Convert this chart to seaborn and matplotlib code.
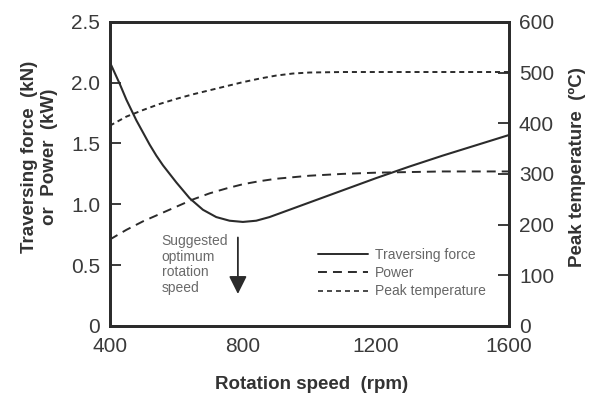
import matplotlib
matplotlib.use("Agg")
import matplotlib.pyplot as plt
import seaborn as sns
import pandas as pd
from matplotlib.lines import Line2D

sns.set_theme(style="white")
plt.rcParams['font.family'] = ['Liberation Sans', 'DejaVu Sans']

force_rpm = [400, 415, 430, 450, 480, 500, 520, 540, 560, 600, 640, 680, 720, 760, 800, 840, 880, 920,
             960, 1000, 1100, 1200, 1300, 1400, 1500, 1600]
force_kn = [2.17, 2.08, 1.99, 1.86, 1.69, 1.59, 1.49, 1.40, 1.32, 1.18, 1.05, 0.955, 0.895, 0.865,
            0.855, 0.865, 0.895, 0.935, 0.975, 1.015, 1.115, 1.215, 1.31, 1.40, 1.485, 1.57]

power_rpm = [400, 450, 500, 550, 600, 650, 700, 750, 800, 850, 900, 1000, 1100, 1200, 1300, 1400, 1600]
power_kw = [0.71, 0.79, 0.86, 0.92, 0.98, 1.04, 1.09, 1.13, 1.165, 1.19, 1.21, 1.235, 1.25, 1.26,
            1.265, 1.27, 1.27]

temp_rpm = [400, 450, 500, 550, 600, 650, 700, 750, 800, 850, 900, 950, 1000, 1100, 1600]
temp_c = [395, 413, 426, 438, 448, 457, 465, 473, 481, 488, 494, 498, 500, 501, 501]

x_ticks = [400, 800, 1200, 1600]
left_ticks = [0, 0.5, 1.0, 1.5, 2.0, 2.5]
left_labels = ["0", "0.5", "1.0", "1.5", "2.0", "2.5"]
right_ticks = [0, 100, 200, 300, 400, 500, 600]

series_labels = ["Traversing force", "Power", "Peak temperature"]
annot_text = "Suggested\noptimum\nrotation\nspeed"
arrow_rpm = 785

col = "#2b2b2b"
fig = plt.figure(figsize=(5.9, 3.97), dpi=100)
ax = fig.add_axes([0.186, 0.179, 0.677, 0.766])
ax2 = ax.twinx()

df_f = pd.DataFrame({"rpm": force_rpm, "v": force_kn})
df_p = pd.DataFrame({"rpm": power_rpm, "v": power_kw})
df_t = pd.DataFrame({"rpm": temp_rpm, "v": temp_c})

sns.lineplot(data=df_f, x="rpm", y="v", ax=ax, color=col, lw=1.5)
sns.lineplot(data=df_p, x="rpm", y="v", ax=ax, color=col, lw=1.4)
ax.lines[-1].set_dashes([4.6, 3.1])
sns.lineplot(data=df_t, x="rpm", y="v", ax=ax2, color=col, lw=1.4)
ax2.lines[-1].set_dashes([2.6, 2.0])

ax.set_xlim(400, 1600)
ax.set_ylim(0, 2.5)
ax2.set_ylim(0, 600)
ax.set_xticks(x_ticks)
ax.set_xticklabels([str(t) for t in x_ticks])
ax.set_yticks(left_ticks)
ax.set_yticklabels(left_labels)
ax2.set_yticks(right_ticks)

for a in (ax, ax2):
    for s in a.spines.values():
        s.set_linewidth(2.0)
        s.set_color(col)
    a.tick_params(direction="in", length=8, width=1.3, color=col, labelsize=15, labelcolor="#3a3a3a")
    a.grid(False)
ax.tick_params(axis="y", pad=7)
ax.tick_params(axis="x", pad=8)
ax2.tick_params(axis="y", pad=7)

lab_kw = dict(fontsize=13.5, fontweight="bold", color="#333333")
ax.set_xlabel("Rotation speed  (rpm)", **lab_kw)
ax.xaxis.set_label_coords(0.505, -0.164)
ax.set_ylabel("Traversing force  (kN)\nor  Power  (kW)", linespacing=1.25, **lab_kw)
ax.yaxis.set_label_coords(-0.13, 0.556)
ax2.set_ylabel("Peak temperature  (ºC)", **lab_kw)
ax2.yaxis.set_label_coords(1.15, 0.523)

ax.annotate("", xy=(arrow_rpm, 0.24), xytext=(arrow_rpm, 0.75),
            arrowprops=dict(arrowstyle="-|>,head_length=0.9,head_width=0.45", color=col, lw=1.3))
ax.text(556, 0.755, annot_text, fontsize=10, color="#6a6a6a", va="top", ha="left", linespacing=1.15)

handles = [Line2D([], [], color=col, lw=1.4),
           Line2D([], [], color=col, lw=1.4, dashes=[4.6, 3.1]),
           Line2D([], [], color=col, lw=1.2, dashes=[3.0, 2.4])]
ax.legend(handles, series_labels, loc="upper left", bbox_to_anchor=(0.521, 0.256), frameon=False,
          fontsize=10, labelcolor="#666666", handlelength=3.6, handletextpad=0.5, labelspacing=0.3,
          borderpad=0, borderaxespad=0)

fig.savefig("out.png", dpi=100)
